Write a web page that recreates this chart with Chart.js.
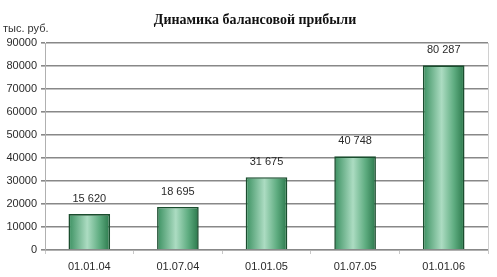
<!DOCTYPE html>
<html>
<head>
<meta charset="utf-8">
<script src="https://cdn.jsdelivr.net/npm/chart.js@4/dist/chart.umd.min.js"></script>
<style>
  html, body { margin: 0; padding: 0; background: #fff; }
  #wrap { width: 497px; height: 277px; position: relative; }
</style>
</head>
<body>
<div id="wrap"><canvas id="chart"></canvas></div>
<script>
const dates = ['01.01.04', '01.07.04', '01.01.05', '01.07.05', '01.01.06'];
const profit = [15620, 18695, 31675, 40748, 80287];
const yTicks = [0, 10000, 20000, 30000, 40000, 50000, 60000, 70000, 80000, 90000];

const TITLE = 'Динамика балансовой прибыли';
const UNIT = 'тыс. руб.';
const BAR_PCT = 0.47;

function fmtVal(n) {
  return String(n).replace(/\B(?=(\d{3})+(?!\d))/g, ' ');
}

// horizontal gradient per bar, built from the x scale
function barFill(ctx) {
  const chart = ctx.chart;
  const xs = chart.scales.x;
  if (!xs || ctx.dataIndex === undefined) return '#5fae80';
  const cx = xs.getPixelForValue(ctx.dataIndex);
  const half = (xs.width / dates.length) * BAR_PCT / 2;
  if (!isFinite(cx) || !isFinite(half) || half <= 0) return '#5fae80';
  const g = chart.ctx.createLinearGradient(cx - half, 0, cx + half, 0);
  g.addColorStop(0, '#3a9060');
  g.addColorStop(0.45, '#acdcc2');
  g.addColorStop(0.75, '#5eac80');
  g.addColorStop(1, '#2a774a');
  return g;
}

const extras = {
  id: 'extras',
  afterDatasetsDraw(chart) {
    const c = chart.ctx;
    const meta = chart.getDatasetMeta(0);
    c.save();
    c.fillStyle = '#2a2a2a';
    c.font = '11px "Liberation Sans", Arial, sans-serif';
    c.textAlign = 'center';
    c.textBaseline = 'bottom';
    meta.data.forEach((bar, i) => {
      c.fillText(fmtVal(profit[i]), bar.x, bar.y - 10);
    });
    c.restore();
  },
  afterDraw(chart) {
    const c = chart.ctx;
    c.save();
    c.fillStyle = '#111';
    c.font = 'bold 14px "Liberation Serif", "Times New Roman", serif';
    c.textAlign = 'center';
    c.textBaseline = 'middle';
    c.fillText(TITLE, 255, 20);
    c.fillStyle = '#333';
    c.font = '11px "Liberation Sans", Arial, sans-serif';
    c.textAlign = 'left';
    c.fillText(UNIT, 3, 29);
    c.restore();
  }
};

const chart = new Chart(document.getElementById('chart'), {
  type: 'bar',
  data: {
    labels: dates,
    datasets: [{
      data: profit,
      backgroundColor: barFill,
      borderColor: '#1a4d2e',
      borderWidth: 1.6,
      barPercentage: BAR_PCT,
      categoryPercentage: 1
    }]
  },
  options: {
    responsive: true,
    maintainAspectRatio: false,
    animation: false,
    layout: { padding: { top: 43, right: 9, left: 0, bottom: 0 } },
    plugins: {
      legend: { display: false },
      title: { display: false },
      tooltip: { enabled: false }
    },
    scales: {
      x: {
        grid: {
          display: true,
          drawOnChartArea: false,
          offset: true,
          tickLength: 4,
          color: '#c8c8c8'
        },
        border: { color: '#b0b0b0', width: 1 },
        ticks: {
          color: '#2a2a2a',
          font: { family: '"Liberation Sans", Arial, sans-serif', size: 11 },
          padding: 6
        },
        afterFit(s) { s.height = 27; }
      },
      y: {
        min: 0,
        max: 90000,
        afterBuildTicks(s) { s.ticks = yTicks.map(v => ({ value: v })); },
        grid: {
          color: '#888',
          lineWidth: 1.6,
          tickLength: 4
        },
        border: { color: '#b0b0b0', width: 1 },
        ticks: {
          color: '#2a2a2a',
          font: { family: '"Liberation Sans", Arial, sans-serif', size: 11 },
          padding: 4,
          callback: v => String(v)
        },
        afterFit(s) { s.width = 45; }
      },
      y2: {
        position: 'right',
        display: true,
        min: 0, max: 90000,
        grid: { display: false },
        ticks: { display: false },
        border: { color: '#d0d0d0', width: 1 },
        afterFit(s) { s.width = 0; }
      }
    }
  },
  plugins: [extras]
});
chart.update();
</script>
</body>
</html>
